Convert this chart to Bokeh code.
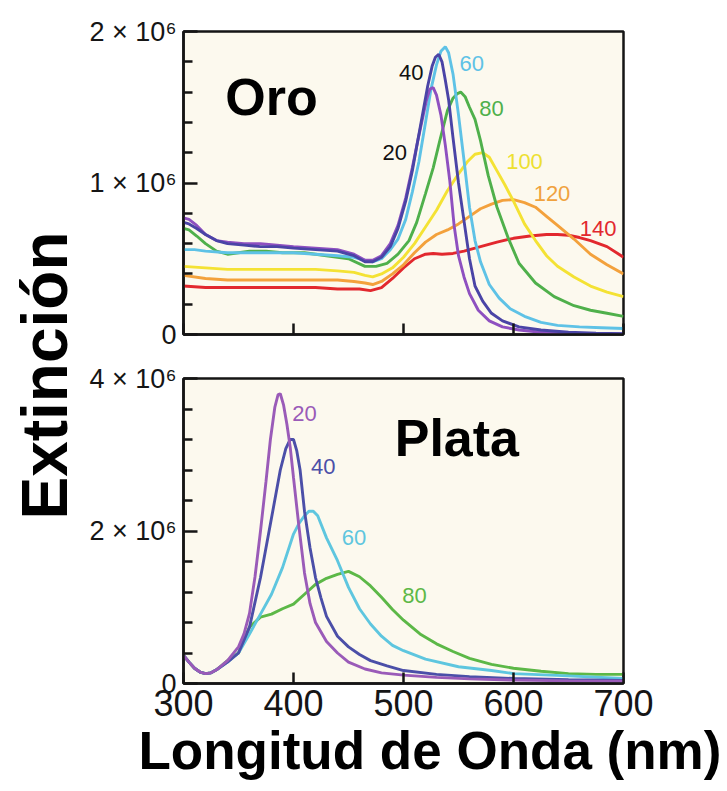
from math import pi
from bokeh.plotting import figure
from bokeh.models import Range1d, FixedTicker, CustomJSTickFormatter, Label, Title
from bokeh.layouts import row, column
from bokeh.embed import file_html
from bokeh.resources import INLINE
from bokeh.core.properties import value

# ---------------- data (extinction in units of 10^6) ----------------
x_ticks = [300, 400, 500, 600, 700]
au_y_ticks = [0, 1, 2]
au_y_minor = [0.2, 0.4, 0.6, 0.8, 1.2, 1.4, 1.6, 1.8]
ag_y_ticks = [0, 2, 4]
ag_y_minor = [0.4, 0.8, 1.2, 1.6, 2.4, 2.8, 3.2, 3.6]

# Gold (Oro)
au20_x = [300, 305, 312, 320, 330, 340, 355, 370, 385, 400, 420, 440, 455, 465, 472, 480, 488, 495, 502, 508, 513, 518, 521, 524, 527, 530, 534, 538, 542, 546, 550, 555, 560, 568, 578, 590, 605, 625, 650, 675, 700]
au20_y = [0.77, 0.76, 0.72, 0.66, 0.62, 0.61, 0.60, 0.60, 0.59, 0.58, 0.57, 0.56, 0.53, 0.49, 0.49, 0.52, 0.60, 0.72, 0.90, 1.10, 1.28, 1.45, 1.55, 1.62, 1.63, 1.58, 1.45, 1.25, 1.02, 0.72, 0.52, 0.38, 0.27, 0.16, 0.09, 0.05, 0.03, 0.015, 0.008, 0.005, 0.003]

au40_x = [300, 305, 312, 320, 330, 340, 355, 370, 385, 400, 420, 440, 455, 465, 472, 480, 488, 495, 502, 508, 513, 518, 522, 526, 529, 532, 535, 538, 541, 545, 550, 555, 560, 565, 572, 580, 590, 605, 625, 650, 675, 700]
au40_y = [0.74, 0.73, 0.70, 0.66, 0.62, 0.60, 0.59, 0.58, 0.58, 0.57, 0.56, 0.55, 0.52, 0.48, 0.48, 0.51, 0.58, 0.70, 0.88, 1.08, 1.28, 1.48, 1.64, 1.77, 1.83, 1.85, 1.80, 1.68, 1.55, 1.30, 1.00, 0.75, 0.50, 0.32, 0.22, 0.14, 0.09, 0.05, 0.03, 0.015, 0.008, 0.005]

au60_x = [300, 310, 320, 340, 360, 380, 400, 420, 440, 455, 465, 472, 480, 488, 495, 502, 508, 514, 520, 525, 530, 534, 538, 541, 545, 550, 555, 560, 565, 570, 578, 587, 597, 610, 625, 640, 660, 680, 700]
au60_y = [0.56, 0.56, 0.55, 0.54, 0.54, 0.54, 0.54, 0.53, 0.52, 0.51, 0.49, 0.48, 0.50, 0.56, 0.63, 0.76, 0.94, 1.14, 1.40, 1.62, 1.78, 1.87, 1.90, 1.86, 1.72, 1.45, 1.15, 0.84, 0.62, 0.48, 0.33, 0.24, 0.17, 0.12, 0.08, 0.06, 0.05, 0.045, 0.04]

au80_x = [300, 305, 312, 320, 330, 340, 350, 360, 375, 390, 410, 430, 450, 465, 475, 485, 495, 505, 512, 520, 527, 533, 540, 545, 549, 552, 556, 560, 565, 570, 577, 585, 595, 605, 620, 637, 655, 670, 685, 700]
au80_y = [0.70, 0.69, 0.65, 0.60, 0.55, 0.53, 0.54, 0.55, 0.55, 0.54, 0.54, 0.52, 0.50, 0.45, 0.45, 0.47, 0.53, 0.62, 0.74, 0.93, 1.10, 1.28, 1.48, 1.56, 1.59, 1.60, 1.57, 1.50, 1.42, 1.28, 1.05, 0.84, 0.64, 0.47, 0.34, 0.25, 0.19, 0.16, 0.14, 0.12]

au100_x = [300, 320, 340, 360, 380, 400, 420, 440, 455, 465, 472, 480, 490, 500, 510, 520, 530, 540, 550, 558, 565, 572, 578, 585, 592, 600, 610, 620, 630, 640, 655, 670, 685, 700]
au100_y = [0.45, 0.44, 0.43, 0.43, 0.43, 0.43, 0.43, 0.42, 0.41, 0.39, 0.38, 0.40, 0.44, 0.51, 0.60, 0.71, 0.82, 0.95, 1.06, 1.14, 1.19, 1.20, 1.17, 1.08, 0.99, 0.88, 0.73, 0.62, 0.52, 0.45, 0.38, 0.32, 0.28, 0.25]

au120_x = [300, 320, 340, 360, 380, 400, 420, 440, 455, 465, 472, 480, 490, 500, 510, 520, 530, 540, 550, 560, 570, 580, 590, 600, 610, 620, 630, 640, 655, 670, 685, 700]
au120_y = [0.39, 0.37, 0.36, 0.36, 0.36, 0.36, 0.36, 0.36, 0.35, 0.34, 0.33, 0.35, 0.40, 0.46, 0.54, 0.61, 0.66, 0.69, 0.73, 0.78, 0.83, 0.86, 0.885, 0.89, 0.87, 0.84, 0.78, 0.72, 0.63, 0.53, 0.46, 0.40]

au140_x = [300, 320, 340, 360, 380, 400, 420, 440, 460, 470, 480, 490, 500, 510, 520, 527, 535, 545, 555, 570, 585, 600, 615, 630, 640, 650, 660, 670, 685, 700]
au140_y = [0.32, 0.31, 0.31, 0.31, 0.31, 0.31, 0.31, 0.30, 0.30, 0.29, 0.31, 0.37, 0.44, 0.50, 0.53, 0.535, 0.53, 0.535, 0.55, 0.58, 0.61, 0.635, 0.65, 0.66, 0.66, 0.655, 0.64, 0.62, 0.58, 0.51]

au_colors = ["#8E50C0", "#4A44A6", "#5EC2E6", "#4FB04B", "#F4E234", "#F3A13C", "#E2282E"]

au_label_text = ["20", "40", "60", "80", "100", "120", "140"]
au_label_x = [492, 507, 562, 580, 610, 635, 677]
au_label_y = [1.20, 1.73, 1.79, 1.49, 1.14, 0.93, 0.70]
au_label_colors = ["#111111", "#111111", "#5EC2E6", "#4FB04B", "#EDE030", "#F0A23E", "#E2282E"]

# Silver (Plata)
ag20_x = [300, 305, 310, 315, 320, 325, 330, 340, 350, 355, 360, 365, 370, 375, 379, 383, 386, 388, 391, 394, 397, 400, 405, 410, 415, 420, 430, 440, 450, 465, 480, 500, 530, 560, 600, 650, 700]
ag20_y = [0.37, 0.28, 0.20, 0.15, 0.13, 0.14, 0.18, 0.30, 0.48, 0.65, 0.92, 1.40, 2.00, 2.65, 3.20, 3.62, 3.79, 3.80, 3.65, 3.40, 3.10, 2.70, 2.05, 1.45, 1.05, 0.80, 0.55, 0.40, 0.28, 0.19, 0.14, 0.11, 0.08, 0.06, 0.045, 0.035, 0.03]

ag40_x = [300, 305, 310, 315, 320, 325, 330, 340, 350, 360, 370, 380, 388, 393, 397, 400, 403, 406, 410, 415, 420, 425, 430, 440, 450, 460, 470, 485, 500, 530, 560, 600, 650, 700]
ag40_y = [0.37, 0.28, 0.20, 0.15, 0.13, 0.14, 0.18, 0.28, 0.40, 0.74, 1.39, 2.17, 2.80, 3.08, 3.20, 3.20, 3.05, 2.80, 2.26, 1.78, 1.39, 1.12, 0.88, 0.62, 0.48, 0.38, 0.30, 0.23, 0.17, 0.12, 0.09, 0.065, 0.05, 0.04]

ag60_x = [300, 305, 310, 315, 320, 325, 330, 340, 350, 360, 370, 380, 390, 400, 405, 410, 414, 418, 422, 430, 440, 450, 460, 470, 480, 490, 500, 520, 550, 580, 600, 650, 700]
ag60_y = [0.37, 0.28, 0.20, 0.15, 0.13, 0.14, 0.18, 0.28, 0.40, 0.65, 0.91, 1.17, 1.52, 1.96, 2.10, 2.20, 2.26, 2.26, 2.20, 1.91, 1.61, 1.26, 0.98, 0.78, 0.62, 0.50, 0.43, 0.32, 0.22, 0.17, 0.13, 0.10, 0.065]

ag80_x = [300, 305, 310, 315, 320, 325, 330, 340, 350, 355, 360, 370, 380, 390, 400, 410, 420, 430, 440, 450, 460, 470, 480, 490, 500, 515, 530, 545, 560, 580, 600, 625, 650, 675, 700]
ag80_y = [0.37, 0.28, 0.20, 0.15, 0.13, 0.14, 0.18, 0.30, 0.40, 0.58, 0.74, 0.87, 0.91, 0.98, 1.04, 1.17, 1.30, 1.38, 1.43, 1.47, 1.40, 1.28, 1.13, 0.97, 0.83, 0.65, 0.52, 0.42, 0.33, 0.25, 0.20, 0.16, 0.13, 0.12, 0.12]

ag_colors = ["#9A5BB8", "#4B4FA8", "#5EC6DF", "#5CB847"]

ag_label_text = ["20", "40", "60", "80"]
ag_label_x = [410, 427, 455, 510]
ag_label_y = [3.54, 2.85, 1.91, 1.15]
ag_label_colors = ["#9A5BB8", "#4B4FA8", "#5EC6DF", "#5CB847"]

# ---------------- styling ----------------
BG = "#FCF9EE"
FONT = "Liberation Sans"
INK = "#151515"
YLAB_W = 84
COL_W = 727 - YLAB_W
LEFT_B = 183 - YLAB_W

ytick_fmt = CustomJSTickFormatter(code="return tick == 0 ? '0' : tick.toFixed(0) + ' \u00d7 10\u2076';")


def make_panel(height, border_top, border_bottom, yrange, yticks, yminor, show_xlabels):
    p = figure(width=COL_W, height=height, output_backend="svg", toolbar_location=None,
               x_range=Range1d(300, 700), y_range=Range1d(*yrange),
               min_border_left=LEFT_B, min_border_right=COL_W - LEFT_B - 440,
               min_border_top=border_top, min_border_bottom=border_bottom)
    p.background_fill_color = BG
    p.border_fill_color = "white"
    p.outline_line_color = INK
    p.outline_line_width = 2.5
    p.grid.visible = False

    p.yaxis.ticker = FixedTicker(ticks=yticks, minor_ticks=yminor)
    p.yaxis.formatter = ytick_fmt
    p.yaxis.major_tick_in = 14
    p.yaxis.major_tick_out = 0
    p.yaxis.minor_tick_in = 9
    p.yaxis.minor_tick_out = 0
    p.yaxis.major_label_standoff = 7
    p.yaxis.major_label_text_font = FONT
    p.yaxis.major_label_text_font_size = "27px"
    p.yaxis.major_label_text_color = INK

    p.xaxis.ticker = FixedTicker(ticks=x_ticks, minor_ticks=[])
    p.xaxis.major_tick_in = 11
    p.xaxis.major_tick_out = 0
    p.xaxis.minor_tick_in = 0
    p.xaxis.minor_tick_out = 0
    p.xaxis.major_label_standoff = 6
    p.xaxis.major_label_text_font = FONT
    p.xaxis.major_label_text_color = INK
    if show_xlabels:
        p.xaxis.major_label_text_font_size = "36px"
    else:
        p.xaxis.major_label_text_font_size = "1px"
        p.xaxis.major_label_text_alpha = 0

    for ax in (p.xaxis, p.yaxis):
        ax.axis_line_color = INK
        ax.axis_line_width = 2.5
        ax.major_tick_line_color = INK
        ax.major_tick_line_width = 2.5
        ax.minor_tick_line_color = INK
        ax.minor_tick_line_width = 2.5
    return p


# top panel: frame y 31..334
top = make_panel(354, 31, 20, (0, 2), au_y_ticks, au_y_minor, False)
au_series = [(au140_x, au140_y, au_colors[6]), (au120_x, au120_y, au_colors[5]),
             (au100_x, au100_y, au_colors[4]), (au80_x, au80_y, au_colors[3]),
             (au60_x, au60_y, au_colors[2]), (au20_x, au20_y, au_colors[0]),
             (au40_x, au40_y, au_colors[1])]
for xs, ys, c in au_series:
    top.line(xs, ys, line_color=c, line_width=2.9)
top.text(x=au_label_x, y=au_label_y, text=au_label_text, text_color=au_label_colors,
         text_font=value(FONT), text_font_size=value("22px"),
         text_align="center", text_baseline="middle")
top.add_layout(Label(x=338, y=1.57, text="Oro", text_font=FONT, text_font_style="bold",
                     text_font_size="52px", text_color="#000000", text_align="left",
                     text_baseline="alphabetic"))

# bottom panel: frame y 378..683, then tick labels and the x title
bottom = make_panel(437, 24, 108, (0, 4), ag_y_ticks, ag_y_minor, True)
ag_series = [(ag80_x, ag80_y, ag_colors[3]), (ag60_x, ag60_y, ag_colors[2]),
             (ag40_x, ag40_y, ag_colors[1]), (ag20_x, ag20_y, ag_colors[0])]
for xs, ys, c in ag_series:
    bottom.line(xs, ys, line_color=c, line_width=2.9)
bottom.text(x=ag_label_x, y=ag_label_y, text=ag_label_text, text_color=ag_label_colors,
            text_font=value(FONT), text_font_size=value("22px"),
            text_align="center", text_baseline="middle")
bottom.add_layout(Label(x=492, y=3.22, text="Plata", text_font=FONT, text_font_style="bold",
                        text_font_size="52px", text_color="#000000", text_align="left",
                        text_baseline="alphabetic"))
bottom.add_layout(Title(text="Longitud de Onda (nm)", align="left", offset=-45,
                        text_font=FONT, text_font_style="bold", text_font_size="53px",
                        text_color="#000000", standoff=0), "below")

# y-axis title strip
ylab = figure(width=YLAB_W, height=791, output_backend="svg", toolbar_location=None,
              x_range=Range1d(0, 1), y_range=Range1d(0, 1), min_border=0)
ylab.axis.visible = False
ylab.grid.visible = False
ylab.outline_line_color = None
ylab.background_fill_color = "white"
ylab.border_fill_color = "white"
ylab.add_layout(Label(x=44, y=416, x_units="screen", y_units="screen", angle=pi / 2,
                      text="Extinción", text_font=FONT, text_font_style="bold",
                      text_font_size="64px", text_color="#000000", text_align="center",
                      text_baseline="middle"))

layout = row(ylab, column(top, bottom))

with open("out.html", "w") as f:
    f.write(file_html(layout, INLINE))
